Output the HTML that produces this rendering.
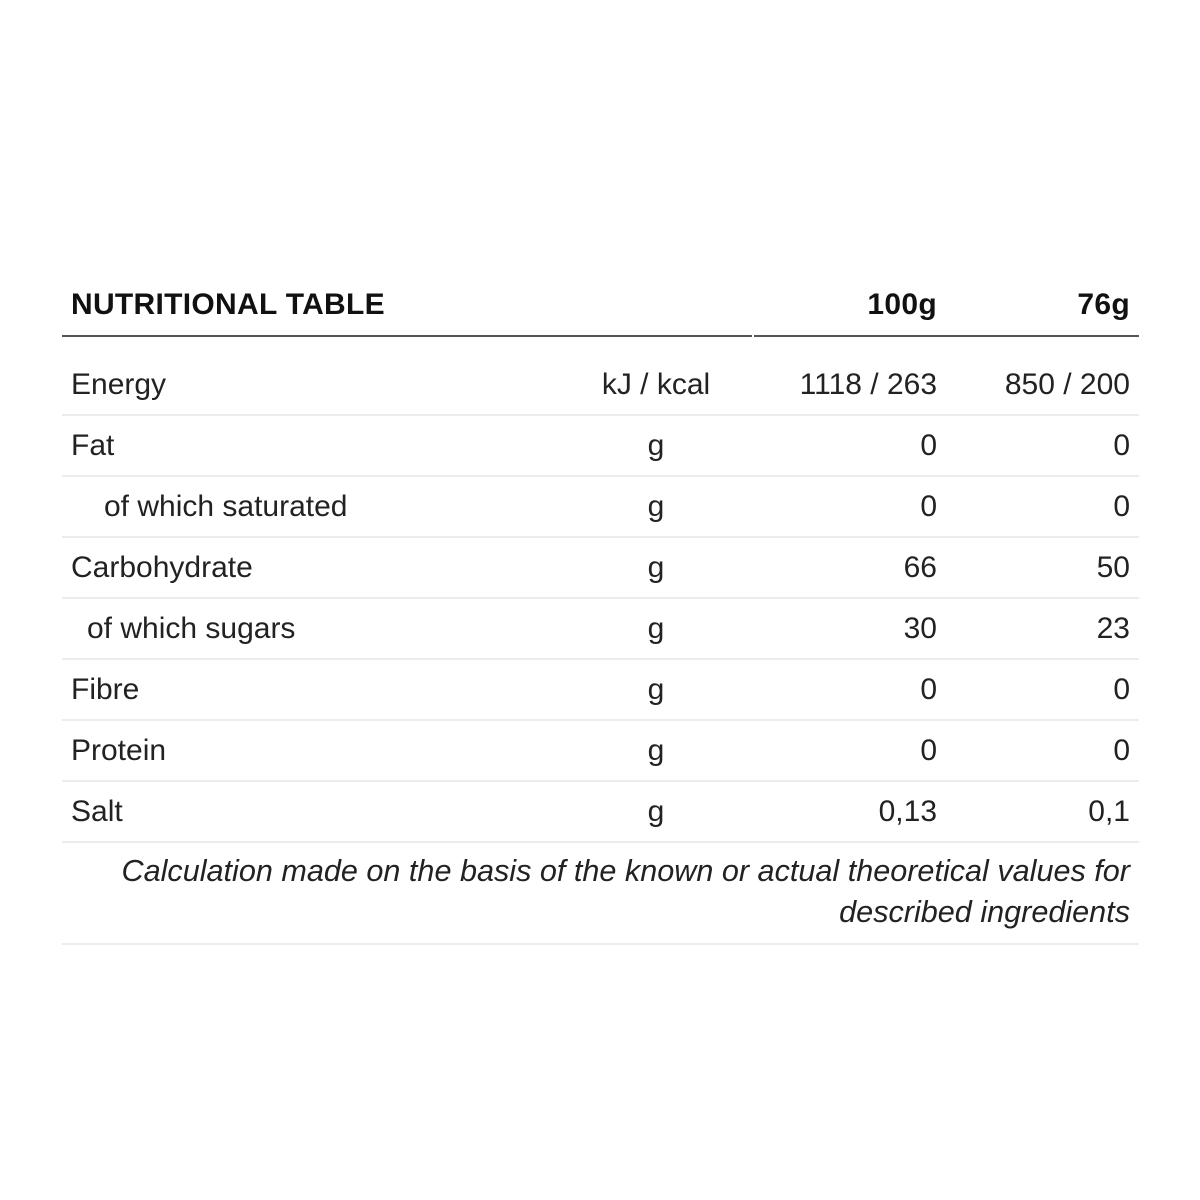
<!DOCTYPE html>
<html><head><meta charset="utf-8"><style>
body{margin:0;width:1200px;height:1200px;background:#fff;position:relative;font-family:"Liberation Sans",sans-serif;color:#222;overflow:hidden}
.t{position:absolute;font-size:30px;line-height:1;white-space:nowrap}
.b{font-weight:bold;color:#111;font-size:30px;letter-spacing:0.3px}
.r{text-align:right}
.c{text-align:center}
.l{position:absolute;left:62px;width:1077px;height:2px;background:#ececec}
</style></head><body>
<div class="t b" style="left:71px;top:290px">NUTRITIONAL TABLE</div>
<div class="t b r" style="right:263px;top:290px">100g</div>
<div class="t b r" style="right:70px;top:290px">76g</div>
<div style="position:absolute;left:62px;top:335px;width:690px;height:2px;background:#555"></div>
<div style="position:absolute;left:754px;top:335px;width:385px;height:2px;background:#555"></div>

<div class="t" style="left:71px;top:370px">Energy</div>
<div class="t c" style="left:556px;width:200px;top:370px">kJ / kcal</div>
<div class="t r" style="right:263px;top:370px">1118 / 263</div>
<div class="t r" style="right:70px;top:370px">850 / 200</div>
<div class="l" style="top:414px"></div>

<div class="t" style="left:71px;top:431px">Fat</div>
<div class="t c" style="left:556px;width:200px;top:431px">g</div>
<div class="t r" style="right:263px;top:431px">0</div>
<div class="t r" style="right:70px;top:431px">0</div>
<div class="l" style="top:475px"></div>

<div class="t" style="left:104px;top:492px">of which saturated</div>
<div class="t c" style="left:556px;width:200px;top:492px">g</div>
<div class="t r" style="right:263px;top:492px">0</div>
<div class="t r" style="right:70px;top:492px">0</div>
<div class="l" style="top:536px"></div>

<div class="t" style="left:71px;top:553px">Carbohydrate</div>
<div class="t c" style="left:556px;width:200px;top:553px">g</div>
<div class="t r" style="right:263px;top:553px">66</div>
<div class="t r" style="right:70px;top:553px">50</div>
<div class="l" style="top:597px"></div>

<div class="t" style="left:87px;top:614px">of which sugars</div>
<div class="t c" style="left:556px;width:200px;top:614px">g</div>
<div class="t r" style="right:263px;top:614px">30</div>
<div class="t r" style="right:70px;top:614px">23</div>
<div class="l" style="top:658px"></div>

<div class="t" style="left:71px;top:675px">Fibre</div>
<div class="t c" style="left:556px;width:200px;top:675px">g</div>
<div class="t r" style="right:263px;top:675px">0</div>
<div class="t r" style="right:70px;top:675px">0</div>
<div class="l" style="top:719px"></div>

<div class="t" style="left:71px;top:736px">Protein</div>
<div class="t c" style="left:556px;width:200px;top:736px">g</div>
<div class="t r" style="right:263px;top:736px">0</div>
<div class="t r" style="right:70px;top:736px">0</div>
<div class="l" style="top:780px"></div>

<div class="t" style="left:71px;top:797px">Salt</div>
<div class="t c" style="left:556px;width:200px;top:797px">g</div>
<div class="t r" style="right:263px;top:797px">0,13</div>
<div class="t r" style="right:70px;top:797px">0,1</div>
<div class="l" style="top:841px"></div>

<div class="t r" style="right:70px;top:851px;font-style:italic;font-size:30.6px;line-height:41px">Calculation made on the basis of the known or actual theoretical values for<br>described ingredients</div>
<div class="l" style="top:943px"></div>
</body></html>
